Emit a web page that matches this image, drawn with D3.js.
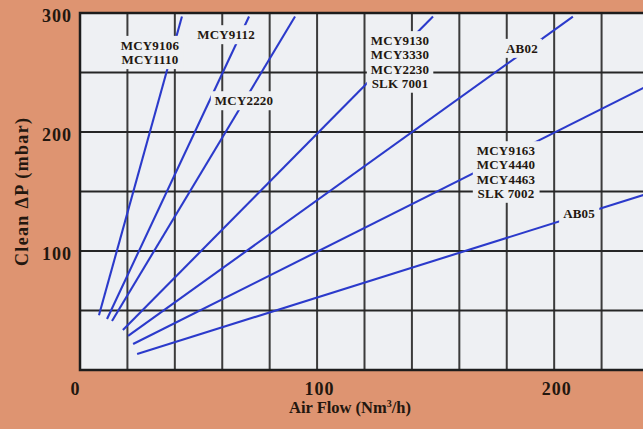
<!DOCTYPE html>
<html>
<head>
<meta charset="utf-8">
<script src="https://cdn.jsdelivr.net/npm/d3@7"></script>
<style>
  html, body { margin: 0; padding: 0; background: #de9471; }
  svg { display: block; }
  text { font-family: "Liberation Serif", "Times New Roman", serif; font-weight: bold; fill: #23170f; }
</style>
</head>
<body>
<svg id="chart" width="643" height="429"></svg>
<script>
// Clean pressure drop vs. air flow for each filter cartridge group
const seriesLabels = [
  ["MCY9106", "MCY1110"],
  ["MCY9112"],
  ["MCY2220"],
  ["MCY9130", "MCY3330", "MCY2230", "SLK 7001"],
  ["AB02"],
  ["MCY9163", "MCY4440", "MCY4463", "SLK 7002"],
  ["AB05"]
];
// each curve is a straight segment from (flowStart, dpStart) to (flowEnd, dpEnd)
const flowStart = [8.0, 11.4, 13.5, 18.1, 20.3, 22.4, 24.1];
const dpStart   = [46.0, 42.9, 41.2, 33.6, 28.6, 21.8, 13.4];
const flowEnd   = [43.0, 71.3, 90.7, 148.9, 207.9, 240, 240];
const dpEnd     = [297, 297, 297, 297, 297, 239.4, 148.6];

const flowTicks = [0, 100, 200];
const dpTicks = [100, 200, 300];
const flowGridStep = 20;
const dpGridStep = 50;

// label placement: centre flow and first-baseline pressure of each label block
const labelFlow = [29.5, 61.6, 69.2, 135.0, 186.4, 179.7, 210.5];
const labelDp   = [269.0, 278.0, 222.5, 273.0, 266.5, 180.5, 127.5];

const svg = d3.select("#chart");
const plot = { left: 80, top: 13, bottom: 370, right: 649 };

const x = d3.scaleLinear().domain([0, 240]).range([plot.left, plot.right]);
const y = d3.scaleLinear().domain([0, 300]).range([plot.bottom, plot.top]);

svg.append("defs").append("clipPath").attr("id", "plotClip")
  .append("rect")
  .attr("x", plot.left).attr("y", plot.top)
  .attr("width", plot.right - plot.left).attr("height", plot.bottom - plot.top);

// plot background
svg.append("rect")
  .attr("x", plot.left).attr("y", plot.top)
  .attr("width", plot.right - plot.left).attr("height", plot.bottom - plot.top)
  .attr("fill", "#eef0f3");

const g = svg.append("g").attr("clip-path", "url(#plotClip)");

// grid
const vGrid = d3.range(0, 241, flowGridStep);
const hGrid = d3.range(0, 301, dpGridStep);
g.selectAll("line.v").data(vGrid).join("line")
  .attr("class", "v")
  .attr("x1", d => x(d)).attr("x2", d => x(d))
  .attr("y1", plot.top).attr("y2", plot.bottom)
  .attr("stroke", "#3b3b3b").attr("stroke-width", 2);
g.selectAll("line.h").data(hGrid).join("line")
  .attr("class", "h")
  .attr("x1", plot.left).attr("x2", plot.right)
  .attr("y1", d => y(d)).attr("y2", d => y(d))
  .attr("stroke", "#262626").attr("stroke-width", 2);

// curves
const curves = seriesLabels.map((lab, i) => [
  [flowStart[i], dpStart[i]],
  [flowEnd[i], dpEnd[i]]
]);
const lineGen = d3.line().x(d => x(d[0])).y(d => y(d[1]));
g.selectAll("path.curve").data(curves).join("path")
  .attr("class", "curve")
  .attr("d", lineGen)
  .attr("fill", "none")
  .attr("stroke", "#2b3acb")
  .attr("stroke-width", 2.1);

// labels with a background patch that interrupts grid and curve
const lineStep = 14.2;
seriesLabels.forEach((lines, i) => {
  const lg = g.append("g");
  const bg = lg.append("rect").attr("fill", "#eef0f3");
  const t = lg.append("text")
    .attr("text-anchor", "middle")
    .attr("font-size", 13)
    .attr("letter-spacing", 0.2);
  lines.forEach((s, k) => {
    t.append("tspan")
      .attr("x", x(labelFlow[i]))
      .attr("y", y(labelDp[i]) + k * lineStep)
      .text(s);
  });
  const b = t.node().getBBox();
  bg.attr("x", b.x - 4).attr("y", b.y - 2)
    .attr("width", b.width + 8).attr("height", b.height + 4);
});

// plot frame (left, top, bottom)
svg.append("path")
  .attr("d", `M${plot.right},${plot.top}H${plot.left}V${plot.bottom}H${plot.right}`)
  .attr("fill", "none").attr("stroke", "#1c1c1c").attr("stroke-width", 2.5);

// axes
const yAxis = svg.append("g")
  .attr("transform", `translate(${plot.left},0)`)
  .call(d3.axisLeft(y).tickValues(dpTicks).tickSize(0).tickPadding(8).tickFormat(d3.format("d")));
yAxis.select(".domain").remove();
yAxis.selectAll("text")
  .attr("font-size", 18).attr("letter-spacing", 1)
  .attr("dy", "0.45em")
  .attr("font-family", null).attr("fill", null);

const xAxis = svg.append("g")
  .attr("transform", `translate(0,${plot.bottom})`)
  .call(d3.axisBottom(x).tickValues(flowTicks).tickSize(0).tickPadding(25).tickFormat(d3.format("d")));
xAxis.select(".domain").remove();
xAxis.selectAll("text")
  .attr("font-size", 18).attr("letter-spacing", 1)
  .attr("dy", "0")
  .attr("dx", d => d === 0 ? -5 : 2)
  .attr("font-family", null).attr("fill", null);

// axis titles
svg.append("text")
  .attr("x", 350).attr("y", 413)
  .attr("text-anchor", "middle")
  .attr("font-size", 16.5)
  .html('Air Flow (Nm<tspan font-size="10" dy="-6">3</tspan><tspan dy="6">/h)</tspan>');

svg.append("text")
  .attr("transform", "translate(28,192) rotate(-90)")
  .attr("text-anchor", "middle")
  .attr("font-size", 18)
  .attr("textLength", 148)
  .attr("lengthAdjust", "spacing")
  .text("Clean ΔP (mbar)");
</script>
</body>
</html>
